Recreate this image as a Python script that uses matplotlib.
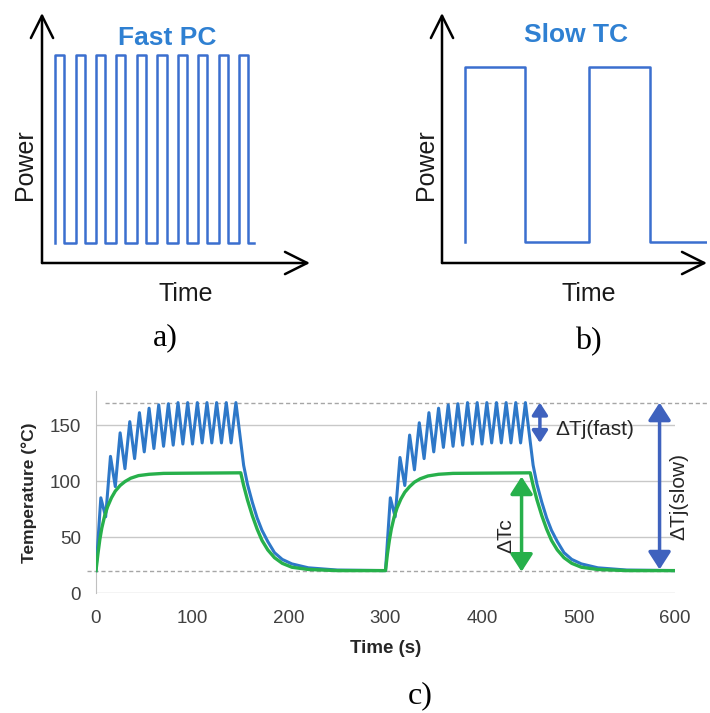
import matplotlib
matplotlib.use('Agg')
import matplotlib.pyplot as plt

plt.rcParams['font.family'] = ['Liberation Sans', 'DejaVu Sans']

# a) fast power cycling: pulse edges (arbitrary time units) and power levels
fast_rise = [0.64, 1.64, 2.63, 3.63, 4.64, 5.64, 6.63, 7.63, 8.64, 9.63]
fast_fall = [1.09, 2.09, 3.08, 4.08, 5.09, 6.09, 7.08, 8.08, 9.09, 10.08]
fast_end = 10.34
fast_high, fast_low = 1.0, 0.094

# b) slow thermal cycling
slow_rise = [1.13, 7.2]
slow_fall = [4.07, 10.2]
slow_end = 13.3
slow_high, slow_low = 0.94, 0.10

# c) junction temperature (Tj, blue) and case temperature (Tc, green)
tj_time = [0, 5, 10, 15, 20, 25, 30, 35, 40, 45, 50, 55, 60, 65, 70, 75, 80, 85, 90,
           95, 100, 105, 110, 115, 120, 125, 130, 135, 140, 145,
           149, 153, 157, 162, 167, 172, 178, 185, 193, 203, 220, 250, 300,
           305, 310, 315, 320, 325, 330, 335, 340, 345, 350, 355, 360, 365, 370, 375, 380,
           385, 390, 395, 400, 405, 410, 415, 420, 425, 430, 435, 440, 445,
           449, 453, 457, 462, 467, 472, 478, 485, 493, 503, 520, 550, 600]
tj_temp = [20, 85, 68, 122, 95, 143, 111, 153, 120, 161, 126, 165, 129, 168, 131, 169, 132, 170, 133,
           170, 133, 170, 134, 170, 134, 170, 134, 170, 134, 170,
           142, 114, 97, 81, 67, 56, 46, 36, 30, 26, 22.5, 20.5, 20,
           85, 68, 121, 96, 141, 110, 152, 120, 161, 126, 165, 130, 168, 131, 169, 132,
           170, 133, 170, 133, 170, 134, 170, 134, 170, 134, 170, 134, 170,
           142, 114, 97, 81, 67, 56, 46, 36, 30, 26, 22.5, 20.5, 20]

tc_time = [0, 2, 4, 6, 9, 12, 16, 20, 25, 30, 36, 44, 55, 70, 100, 150,
           153, 157, 162, 167, 172, 178, 185, 193, 203, 220, 250, 300,
           302, 304, 306, 309, 312, 316, 320, 325, 330, 336, 344, 355, 370, 400, 450,
           453, 457, 462, 467, 472, 478, 485, 493, 503, 520, 550, 600]
tc_temp = [20, 35, 48, 58, 69, 77, 85, 91, 96, 99.5, 102.5, 104.8, 106, 106.8, 107, 107.3,
           96, 83, 69, 57, 47, 38.5, 31.5, 26.5, 23, 21, 20, 20,
           35, 47, 57, 68, 76, 84, 90, 95, 99, 102, 104.5, 106, 106.8, 107, 107.3,
           96, 83, 69, 57, 47, 38.5, 31.5, 26.5, 23, 21, 20, 20]

tj_max_level = 170
tc_min_level = 20

WAVE_BLUE = '#3b6fcf'
TITLE_BLUE = '#2f80d2'
TJ_BLUE = '#2e78c8'
ARROW_BLUE = '#3f62be'
TC_GREEN = '#27b04b'


def square_wave(rise, fall, end, hi, lo):
    xs, ys = [], []
    for r, f in zip(rise, fall):
        xs += [r, r, f, f]
        ys += [lo, hi, hi, lo]
    xs.append(end)
    ys.append(lo)
    return xs, ys


def sketch_axes(ax):
    # hand-drawn style axes: two black arrows, no ticks
    for s in ax.spines.values():
        s.set_visible(False)
    ax.set_xticks([])
    ax.set_yticks([])
    ax.patch.set_alpha(0)
    kw = dict(arrowstyle='->,head_length=0.8,head_width=0.4', lw=1.8, color='black',
              mutation_scale=20, shrinkA=0, shrinkB=0)
    ax.annotate('', xy=(1, 0), xytext=(0, 0), xycoords='axes fraction', arrowprops=kw,
                annotation_clip=False)
    ax.annotate('', xy=(0, 1), xytext=(0, 0), xycoords='axes fraction', arrowprops=kw,
                annotation_clip=False)


W, H = 710, 713
fig = plt.figure(figsize=(W / 100, H / 100), dpi=100)

# ---- a) ----
ax_a = fig.add_axes([42 / W, 1 - 263 / H, 268 / W, 250 / H])
sketch_axes(ax_a)
x, y = square_wave(fast_rise, fast_fall, fast_end, fast_high, fast_low)
ax_a.plot(x, y, color=WAVE_BLUE, lw=1.8, clip_on=False)
ax_a.set_xlim(0, 13.1)
ax_a.set_ylim(0, 1.2)
ax_a.text(0.466, 0.9, 'Fast PC', transform=ax_a.transAxes, ha='center', va='center',
          fontsize=19, fontweight='bold', color=TITLE_BLUE)
ax_a.set_ylabel('Power', fontsize=18, va='center', color='#1a1a1a')
ax_a.yaxis.set_label_coords(-0.063, 0.392)
ax_a.set_xlabel('Time', fontsize=18, va='center', color='#1a1a1a')
ax_a.xaxis.set_label_coords(0.537, -0.124)

# ---- b) ----
ax_b = fig.add_axes([442 / W, 1 - 263 / H, 265 / W, 250 / H])
sketch_axes(ax_b)
x, y = square_wave(slow_rise, slow_fall, slow_end, slow_high, slow_low)
ax_b.plot(x, y, color=WAVE_BLUE, lw=1.8)
ax_b.set_xlim(0, 13.0)
ax_b.set_ylim(0, 1.2)
ax_b.text(0.506, 0.912, 'Slow TC', transform=ax_b.transAxes, ha='center', va='center',
          fontsize=19, fontweight='bold', color=TITLE_BLUE)
ax_b.set_ylabel('Power', fontsize=18, va='center', color='#1a1a1a')
ax_b.yaxis.set_label_coords(-0.060, 0.392)
ax_b.set_xlabel('Time', fontsize=18, va='center', color='#1a1a1a')
ax_b.xaxis.set_label_coords(0.555, -0.124)

# ---- c) ----
ax = fig.add_axes([96 / W, 120 / H, 579 / W, 201.6 / H])
ax.plot(tj_time, tj_temp, color=TJ_BLUE, lw=2.2, zorder=3)
ax.plot(tc_time, tc_temp, color=TC_GREEN, lw=2.4, zorder=4)
ax.set_xlim(0, 600)
ax.set_ylim(0, 180)
ax.set_xticks([0, 100, 200, 300, 400, 500, 600])
ax.set_yticks([0, 50, 100, 150])
ax.grid(axis='y', color='#c8c8c8', lw=1)
ax.set_axisbelow(True)
for side in ['top', 'right', 'bottom']:
    ax.spines[side].set_visible(False)
ax.spines['left'].set_color('#c0c0c0')
ax.tick_params(length=0, labelsize=13.5, labelcolor='#404040')
ax.tick_params(axis='y', pad=11)
ax.tick_params(axis='x', pad=12)

ax.axhline(tj_max_level, xmin=0.015, xmax=1.055, ls=(0, (3, 2)), color='#a6a6a6', lw=1,
           clip_on=False)
ax.axhline(tc_min_level, xmin=-0.015, xmax=1.0, ls=(0, (3, 2)), color='#a6a6a6', lw=1,
           clip_on=False)

akw = dict(arrowstyle='<|-|>,head_length=0.56,head_width=0.36', lw=2.5,
           shrinkA=0, shrinkB=0)
ax.annotate('', xy=(460, 170), xytext=(460, 134),
            arrowprops=dict(akw, color=ARROW_BLUE, mutation_scale=13))
ax.annotate('', xy=(584, 170), xytext=(584, 21),
            arrowprops=dict(akw, color=ARROW_BLUE, mutation_scale=19))
ax.annotate('', xy=(441, 104), xytext=(441, 19),
            arrowprops=dict(akw, color=TC_GREEN, mutation_scale=19))
ax.text(476, 146, 'ΔTj(fast)', ha='left', va='center', fontsize=15, color='#262626')
ax.text(604, 86, 'ΔTj(slow)', rotation=90, ha='center', va='center', fontsize=15,
        color='#262626')
ax.text(425, 51, 'ΔTc', rotation=90, ha='center', va='center', fontsize=15, color='#262626')

ax.set_ylabel('Temperature (°C)', fontsize=12.5, fontweight='bold', color='#262626')
ax.yaxis.set_label_coords(-0.102, 0.496)
ax.set_xlabel('Time (s)', fontsize=13.5, fontweight='bold', color='#262626')
ax.xaxis.set_label_coords(0.5, -0.233)

# sub-figure captions
serif = ['Liberation Serif', 'DejaVu Serif']
fig.text(165 / W, 1 - 338 / H, 'a)', ha='center', va='center', fontsize=23, family=serif)
fig.text(588 / W, 1 - 342 / H, 'b)', ha='center', va='center', fontsize=23, family=serif)
fig.text(420 / W, 1 - 696 / H, 'c)', ha='center', va='center', fontsize=23, family=serif)

fig.savefig('out.png', dpi=100)
